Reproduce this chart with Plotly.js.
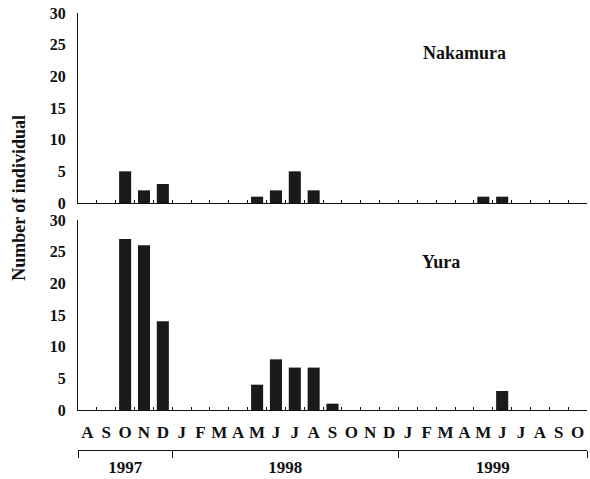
<!DOCTYPE html>
<html>
<head>
<meta charset="utf-8">
<script src="https://cdn.plot.ly/plotly-3.0.1.min.js"></script>
<style>html,body{margin:0;padding:0;background:#fff;}#chart{width:590px;height:479px;}</style>
</head>
<body>
<div id="chart"></div>
<script>
// Months from Aug 1997 to Oct 1999
const monthLabels = ["A","S","O","N","D","J","F","M","A","M","J","J","A","S","O","N","D","J","F","M","A","M","J","J","A","S","O"];
const monthIndex = monthLabels.map((_, i) => i);
const nakamura = [0,0,5,2,3,0,0,0,0,1,2,5,2,0,0,0,0,0,0,0,0,1,1,0,0,0,0];
const yura     = [0,0,27,26,14,0,0,0,0,4,8,6.7,6.7,1,0,0,0,0,0,0,0,0,3,0,0,0,0];
const yearLabels = ["1997","1998","1999"];
const yearCenters = [2, 10.5, 21.5];
const yearBounds = [-0.5, 4.5, 16.5, 26.5];
const yTicks = [0,5,10,15,20,25,30];
const boundaryTicks = monthIndex.slice(0, -1).map(i => i + 0.5);

const serif = "Liberation Serif, Times New Roman, serif";
const ink = "#111";
const barColor = "#1a1a1a";

const traces = [
  {type:"bar", x: monthIndex, y: nakamura, xaxis:"x", yaxis:"y", marker:{color:barColor}, hoverinfo:"none"},
  {type:"bar", x: monthIndex, y: yura, xaxis:"x2", yaxis:"y2", marker:{color:barColor}, hoverinfo:"none"},
  // empty helper traces so the extra label axes get drawn
  {type:"scatter", mode:"none", x:[], y:[], xaxis:"x3", yaxis:"y2", hoverinfo:"none"},
  {type:"scatter", mode:"none", x:[], y:[], xaxis:"x4", yaxis:"y2", hoverinfo:"none"},
  {type:"scatter", mode:"none", x:[], y:[], xaxis:"x5", yaxis:"y2", hoverinfo:"none"}
];

const xRange = [-0.5, 26.5];
const yAxisCommon = {
  range:[0,30], tickvals: yTicks, showline:true, linecolor:ink, linewidth:1,
  ticks:"", showgrid:false, zeroline:false, ticklabelstandoff:8,
  tickfont:{family:serif, size:16, color:ink, weight:"bold"}
};
const xBoundaryAxis = {
  range:xRange, tickvals: boundaryTicks, ticks:"inside", ticklen:3, tickcolor:ink,
  showticklabels:false, showline:true, linecolor:ink, linewidth:1.2, showgrid:false, zeroline:false
};

const layout = {
  width:590, height:479,
  margin:{l:78, r:3, t:13, b:29},
  paper_bgcolor:"#fff", plot_bgcolor:"#fff",
  showlegend:false, bargap:0.36,
  xaxis: Object.assign({}, xBoundaryAxis, {domain:[0,1], anchor:"y"}),
  yaxis: Object.assign({}, yAxisCommon, {domain:[0.5652,1], anchor:"x"}),
  xaxis2: Object.assign({}, xBoundaryAxis, {domain:[0,1], anchor:"y2"}),
  yaxis2: Object.assign({}, yAxisCommon, {domain:[0.0915,0.5263], anchor:"x2"}),
  xaxis3: {
    overlaying:"x2", anchor:"y2", side:"bottom", range:xRange,
    tickvals: monthIndex, ticktext: monthLabels, ticks:"", showline:false,
    showgrid:false, zeroline:false, ticklabelstandoff:10,
    tickfont:{family:serif, size:17, color:ink, weight:"bold"}
  },
  xaxis4: {
    overlaying:"x2", anchor:"free", position:0, side:"bottom", range:xRange,
    tickvals: yearBounds, ticks:"outside", ticklen:7, tickcolor:ink, tickwidth:1,
    showticklabels:false, showline:true, linecolor:ink, linewidth:1,
    showgrid:false, zeroline:false
  },
  xaxis5: {
    overlaying:"x2", anchor:"free", position:0, side:"bottom", range:xRange,
    tickvals: yearCenters, ticktext: yearLabels, ticks:"", showline:false,
    showgrid:false, zeroline:false, ticklabelstandoff:5,
    tickfont:{family:serif, size:17, color:ink, weight:"bold"}
  },
  annotations:[
    {text:"Number of individual", xref:"paper", yref:"paper", x:-0.116, y:0.577,
     xanchor:"center", yanchor:"middle", textangle:-90, showarrow:false,
     font:{family:serif, size:18, color:ink, weight:"bold"}},
    {text:"Nakamura", xref:"paper", yref:"paper", x:0.760, y:0.908,
     xanchor:"center", yanchor:"middle", showarrow:false,
     font:{family:serif, size:18, color:ink, weight:"bold"}},
    {text:"Yura", xref:"paper", yref:"paper", x:0.713, y:0.430,
     xanchor:"center", yanchor:"middle", showarrow:false,
     font:{family:serif, size:18, color:ink, weight:"bold"}}
  ]
};

Plotly.newPlot("chart", traces, layout, {staticPlot:true, displayModeBar:false});
</script>
</body>
</html>
